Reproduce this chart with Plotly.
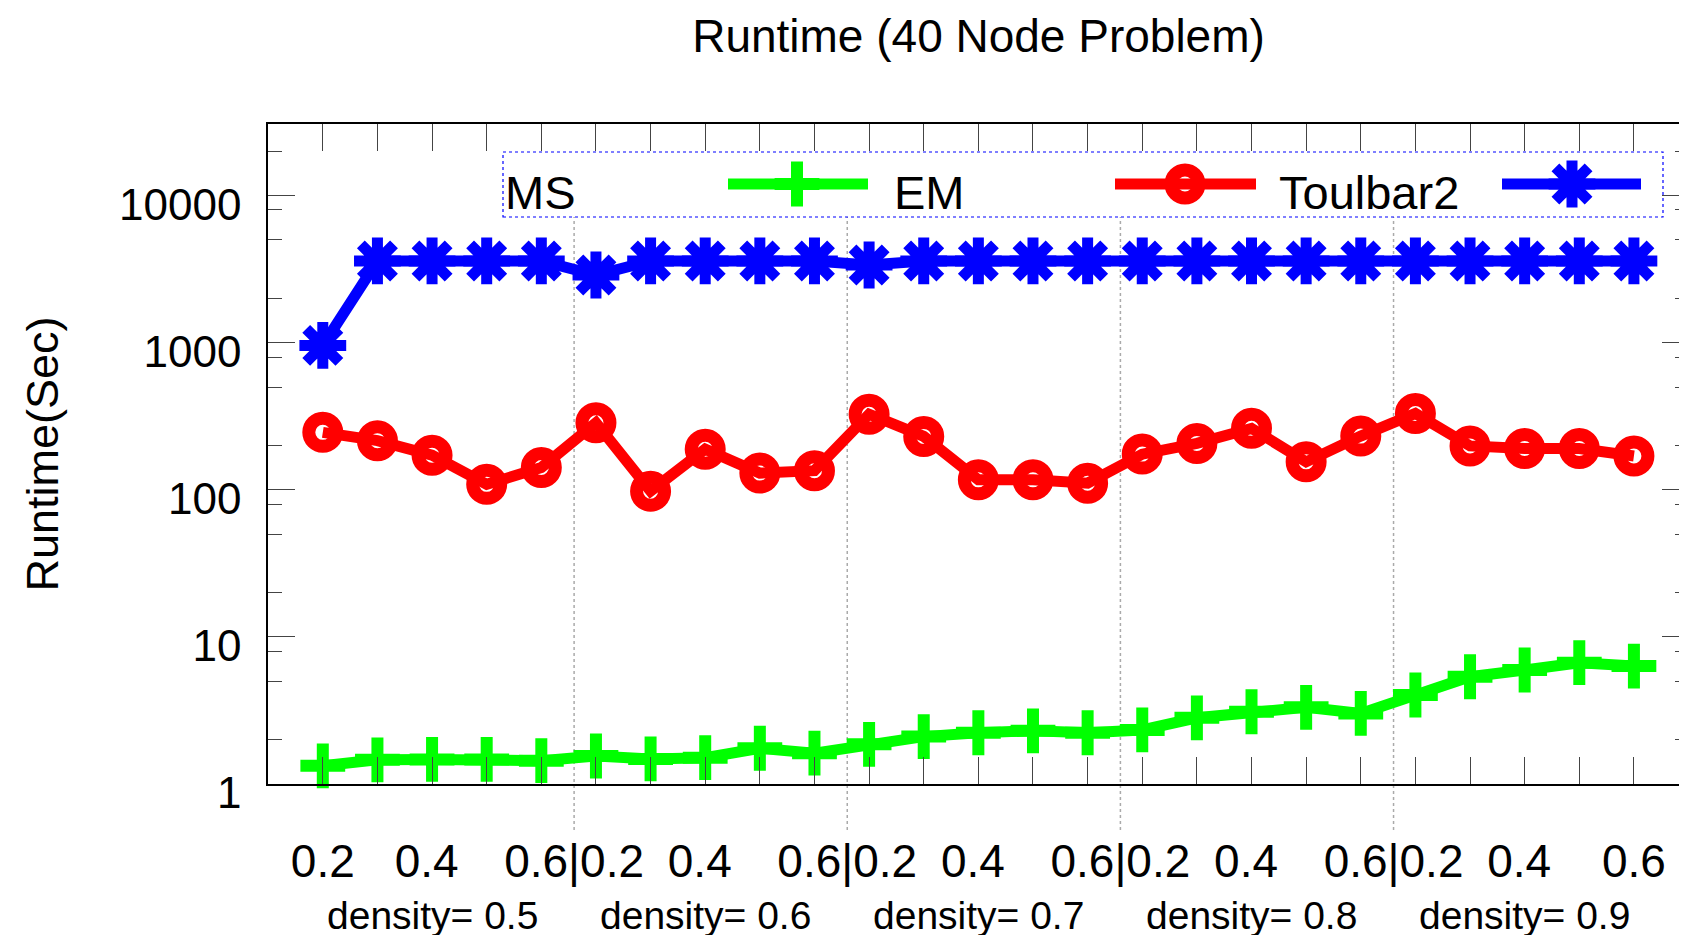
import plotly.graph_objects as go

# ---------------- data ----------------
densities = [0.5, 0.6, 0.7, 0.8, 0.9]
probs = [0.2, 0.3, 0.4, 0.5, 0.6]

ms = [1.33, 1.46, 1.47, 1.47, 1.44,
      1.55, 1.48, 1.51, 1.75, 1.62,
      1.86, 2.10, 2.23, 2.30, 2.23,
      2.33, 2.82, 3.10, 3.32, 3.02,
      4.03, 5.36, 5.96, 6.68, 6.34]
em = [246, 216, 172, 109, 142,
      286, 98, 189, 130, 135,
      327, 231, 117, 117, 111,
      175, 207, 262, 155, 232,
      331, 199, 191, 191, 170]
toulbar2 = [960, 3600, 3600, 3600, 3600,
            2890, 3600, 3600, 3600, 3600,
            3380, 3600, 3600, 3600, 3600,
            3600, 3600, 3600, 3600, 3600,
            3600, 3600, 3600, 3600, 3600]

series_names = ["MS", "EM", "Toulbar2"]
tick_labels = ["0.2", "0.4", "0.6|0.2", "0.4", "0.6|0.2", "0.4",
               "0.6|0.2", "0.4", "0.6|0.2", "0.4", "0.6"]
group_labels = ["density= %.1f" % d for d in densities]
y_major = [1, 10, 100, 1000, 10000]
y_major_text = ["1", "10", "100", "1000", "10000"]

# ---------------- layout helpers ----------------
W, H = 1687, 935
OFF = 8                      # page body margin
L, R, T, B = 260, 6, 116, 159
FONT = "Liberation Sans, Arial, Helvetica, sans-serif"
n = len(probs)
x = [g * n + i for g in range(len(densities)) for i in range(n)]

tick_pos = [0]
for g in range(len(densities)):
    tick_pos.append(g * n + 1.9)
    if g < len(densities) - 1:
        tick_pos.append(g * n + 4.6)
tick_pos.append(x[-1])
sep_pos = [g * n + 4.6 for g in range(len(densities) - 1)]
group_pos = [g * n + 2 for g in range(len(densities))]

y_minor = [m * 10 ** k for k in range(0, 5) for m in (2, 5, 8)]

plot_w = W - L - R
plot_h = H - T - B
def px_x(p):
    return (p - OFF - L) / plot_w
def px_y(p):
    return (H - B - (p - OFF)) / plot_h

x0_px = 322.8 - OFF
step = 54.63
x_range = [(L - x0_px) / step, (W - R - x0_px) / step]
y_range = [0, (784 - (T + OFF)) / 147.07]

colors = ["#00ff00", "#ff0000", "#0000ff"]
symbols = ["cross-thin-open", "circle-open", "asterisk-open"]
msizes = [32, 28, 39]
mlw = [12, 13, 11]
values = [ms, em, toulbar2]

fig = go.Figure()
for name, vals, c, s, sz, lw in zip(series_names, values, colors, symbols, msizes, mlw):
    fig.add_trace(go.Scatter(
        x=x, y=vals, name=name, mode="lines+markers",
        line=dict(color=c, width=11),
        marker=dict(symbol=s, size=sz, color=c, line=dict(color=c, width=lw)),
        cliponaxis=False, showlegend=False))

# ---- manual legend (gnuplot style: text then sample) ----
leg_y_line = px_y(184)
leg_y_text = px_y(192)
leg_text_x = [503, 892, 1277]
leg_line = [(728, 868, 797), (1115, 1256, 1185), (1502, 1641, 1572)]
for i, (name, c, s, sz, lw) in enumerate(zip(series_names, colors, symbols, msizes, mlw)):
    xa, xb, xc = leg_line[i]
    fig.add_trace(go.Scatter(
        x=[px_x(xa), px_x(xb)], y=[leg_y_line, leg_y_line], mode="lines",
        line=dict(color=c, width=11), xaxis="x2", yaxis="y2",
        showlegend=False, hoverinfo="skip"))
    fig.add_trace(go.Scatter(
        x=[px_x(xc)], y=[leg_y_line], mode="markers",
        marker=dict(symbol=s, size=sz, color=c, line=dict(color=c, width=lw)),
        xaxis="x2", yaxis="y2", showlegend=False, hoverinfo="skip"))
    fig.add_annotation(text=name, x=px_x(leg_text_x[i]), y=leg_y_text,
                       xref="paper", yref="paper", xanchor="left", yanchor="middle",
                       showarrow=False, font=dict(family=FONT, size=47, color="black"))

fig.add_shape(type="rect", xref="paper", yref="paper",
              x0=px_x(503), x1=px_x(1663), y0=px_y(217), y1=px_y(152),
              line=dict(color="#0000ff", width=1.2, dash="dot"),
              fillcolor="rgba(0,0,0,0)", layer="above")

# separators
for sx in sep_pos:
    fig.add_shape(type="line", xref="x", yref="paper", x0=sx, x1=sx,
                  y0=px_y(830), y1=px_y(217),
                  line=dict(color="#aaaaaa", width=1.5, dash="dot"), layer="below")

# group labels
for gp, gl in zip(group_pos, group_labels):
    fig.add_annotation(text=gl, x=gp, y=px_y(915), xref="x", yref="paper",
                       xanchor="center", yanchor="middle", showarrow=False,
                       font=dict(family=FONT, size=39, color="black"))

fig.update_layout(
    width=W, height=H,
    margin=dict(l=L, r=R, t=T, b=B, autoexpand=False),
    paper_bgcolor="white", plot_bgcolor="white",
    font=dict(family=FONT, color="black"),
    title=dict(text="Runtime (40 Node Problem)", x=0.5, xref="paper",
               xanchor="center", y=1 - (35.5 - OFF) / H, yref="container", yanchor="middle",
               font=dict(family=FONT, size=46, color="black")),
    xaxis=dict(range=x_range,
               tickmode="array", tickvals=tick_pos, ticktext=tick_labels,
               ticks="", showgrid=False, zeroline=False,
               showline=True, linecolor="black", linewidth=1.5, mirror="ticks",
               tickfont=dict(family=FONT, size=46, color="black"),
               ticklabelstandoff=36,
               minor=dict(tickmode="array", tickvals=x, ticks="inside", ticklen=27,
                          tickwidth=1.2, tickcolor="#444444", showgrid=False)),
    yaxis=dict(type="log", range=y_range,
               tickmode="array", tickvals=y_major, ticktext=y_major_text,
               ticks="inside", ticklen=27, tickwidth=1.2, tickcolor="#444444",
               showgrid=False, zeroline=False,
               showline=True, linecolor="black", linewidth=1.5, mirror="ticks",
               tickfont=dict(family=FONT, size=44, color="black"),
               ticklabelstandoff=16, ticklabelshift=9,
               title=dict(text="Runtime(Sec)", standoff=46,
                          font=dict(family=FONT, size=45, color="black")),
               minor=dict(tickmode="array", tickvals=y_minor, ticks="inside", ticklen=14,
                          tickwidth=1.2, tickcolor="#444444", showgrid=False)),
    xaxis2=dict(overlaying="x", range=[0, 1], visible=False, fixedrange=True),
    yaxis2=dict(overlaying="y", range=[0, 1], visible=False, fixedrange=True),
)

fig.write_html("out.html")
